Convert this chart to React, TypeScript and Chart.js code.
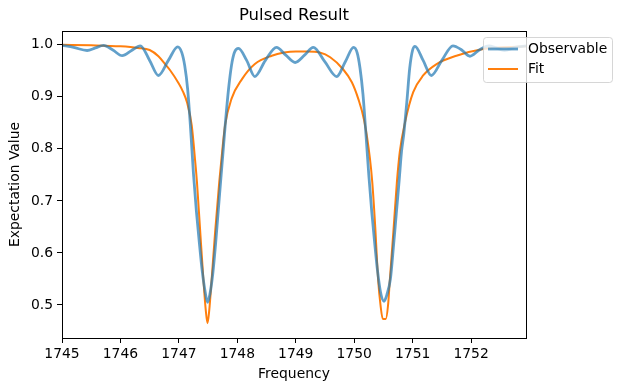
import React, { useEffect, useRef } from "react";
import { Chart, registerables } from "chart.js";

Chart.register(...registerables);

const TITLE = "Pulsed Result";
const X_LABEL = "Frequency";
const Y_LABEL = "Expectation Value";
const SERIES_NAMES = ["Observable", "Fit"];

const X_TICKS = [1745, 1746, 1747, 1748, 1749, 1750, 1751, 1752];
const Y_TICKS = [0.5, 0.6, 0.7, 0.8, 0.9, 1.0];

// Observable (measured) curve
const obsFreq = [
  1745.0, 1745.2, 1745.43, 1745.57, 1745.71, 1745.87, 1746.03, 1746.19, 1746.34, 1746.5, 1746.65, 1746.82, 1746.98,
  1747.05, 1747.1, 1747.15, 1747.2, 1747.25, 1747.3, 1747.35, 1747.4, 1747.45, 1747.49, 1747.53, 1747.58, 1747.63,
  1747.68, 1747.72, 1747.76, 1747.8, 1747.85, 1747.9, 1747.95, 1748.02,
  1748.16, 1748.3, 1748.48, 1748.67, 1748.83, 1748.99, 1749.15, 1749.3, 1749.5, 1749.7, 1749.85, 1749.99,
  1750.05, 1750.1, 1750.15, 1750.2, 1750.25, 1750.3, 1750.35, 1750.4, 1750.45, 1750.51, 1750.56, 1750.62, 1750.67,
  1750.72, 1750.77, 1750.81, 1750.85, 1750.9, 1750.95, 1751.0, 1751.04,
  1751.18, 1751.32, 1751.5, 1751.69, 1751.84, 1751.98, 1752.14, 1752.3, 1752.43, 1752.57, 1752.75, 1752.94,
];
const obsValue = [
  0.999, 0.995, 0.989, 0.994, 0.999, 0.99, 0.979, 0.989, 0.998, 0.97, 0.941, 0.97, 0.996,
  0.985, 0.96, 0.915, 0.84, 0.752, 0.68, 0.62, 0.565, 0.525, 0.505, 0.52, 0.56, 0.62,
  0.69, 0.745, 0.8, 0.855, 0.915, 0.96, 0.985, 0.993,
  0.97, 0.939, 0.97, 0.995, 0.98, 0.966, 0.98, 0.995, 0.967, 0.939, 0.968, 0.995,
  0.985, 0.955, 0.905, 0.83, 0.75, 0.68, 0.62, 0.565, 0.525, 0.507, 0.52, 0.55, 0.61,
  0.675, 0.74, 0.795, 0.83, 0.889, 0.955, 0.99, 0.997,
  0.97, 0.941, 0.97, 0.998, 0.99, 0.978, 0.99, 0.998, 0.994, 0.989, 0.995, 0.998,
];

// Fit curve
const fitFreq = [
  1745.0, 1745.5, 1746.0, 1746.3, 1746.5, 1746.65, 1746.77, 1746.85, 1746.99, 1747.07, 1747.14, 1747.22, 1747.28,
  1747.31, 1747.36, 1747.42, 1747.46, 1747.49, 1747.52, 1747.56, 1747.62, 1747.69, 1747.74, 1747.79, 1747.9,
  1748.08, 1748.3, 1748.59, 1748.8, 1749.0, 1749.2, 1749.41, 1749.59, 1749.81, 1749.96, 1750.07, 1750.17, 1750.27,
  1750.31, 1750.36, 1750.41, 1750.45, 1750.49, 1750.54, 1750.58, 1750.61, 1750.67, 1750.73, 1750.78, 1750.87,
  1751.01, 1751.18, 1751.41, 1751.75, 1752.21, 1752.94,
];
const fitValue = [
  1.0, 0.999, 0.997, 0.994, 0.99, 0.978, 0.962, 0.951, 0.927, 0.91, 0.889, 0.845, 0.775,
  0.735, 0.65, 0.548, 0.49, 0.465, 0.49, 0.548, 0.64, 0.735, 0.794, 0.845, 0.896,
  0.934, 0.963, 0.979, 0.985, 0.987, 0.987, 0.985, 0.976, 0.953, 0.928, 0.896, 0.855, 0.781,
  0.735, 0.65, 0.548, 0.5, 0.473, 0.473, 0.5, 0.548, 0.64, 0.735, 0.794, 0.851,
  0.909, 0.941, 0.963, 0.979, 0.992, 0.997,
];

const OBS_COLOR = "rgba(31,119,180,0.7)";
const FIT_COLOR = "#ff7f0e";
const FONT = "'DejaVu Sans', sans-serif";

const W = 622;
const H = 391;
const LEFT = 62;
const RIGHT = 526;
const TOP = 31;
const BOTTOM = 338;

export default function App() {
  const ref = useRef<HTMLCanvasElement | null>(null);

  useEffect(() => {
    document.body.style.margin = "0";
    const canvas = ref.current;
    if (!canvas) return;

    const decor = {
      id: "decor",
      afterDatasetsDraw(chart: any) {
        const { ctx, chartArea } = chart;
        ctx.save();
        // frame
        ctx.strokeStyle = "#000";
        ctx.lineWidth = 1;
        ctx.strokeRect(
          Math.round(chartArea.left) + 0.5,
          Math.round(chartArea.top) + 0.5,
          Math.round(chartArea.right - chartArea.left),
          Math.round(chartArea.bottom - chartArea.top)
        );
        // title
        ctx.fillStyle = "#000";
        ctx.font = `16.5px ${FONT}`;
        ctx.textAlign = "center";
        ctx.textBaseline = "middle";
        ctx.fillText(TITLE, (chartArea.left + chartArea.right) / 2, 16);
        // legend
        const bx = 483.5, by = 37.5, bw = 129, bh = 45, r = 3;
        ctx.beginPath();
        ctx.moveTo(bx + r, by);
        ctx.lineTo(bx + bw - r, by);
        ctx.arcTo(bx + bw, by, bx + bw, by + r, r);
        ctx.lineTo(bx + bw, by + bh - r);
        ctx.arcTo(bx + bw, by + bh, bx + bw - r, by + bh, r);
        ctx.lineTo(bx + r, by + bh);
        ctx.arcTo(bx, by + bh, bx, by + bh - r, r);
        ctx.lineTo(bx, by + r);
        ctx.arcTo(bx, by, bx + r, by, r);
        ctx.closePath();
        ctx.fillStyle = "rgba(255,255,255,0.8)";
        ctx.fill();
        ctx.strokeStyle = "rgba(204,204,204,0.8)";
        ctx.stroke();
        const rows = [
          { y: 49, color: OBS_COLOR, w: 2.8, label: SERIES_NAMES[0] },
          { y: 69, color: FIT_COLOR, w: 2, label: SERIES_NAMES[1] },
        ];
        rows.forEach((row) => {
          ctx.beginPath();
          ctx.strokeStyle = row.color;
          ctx.lineWidth = row.w;
          ctx.moveTo(488, row.y);
          ctx.lineTo(518, row.y);
          ctx.stroke();
          ctx.fillStyle = "#000";
          ctx.font = `13.9px ${FONT}`;
          ctx.textAlign = "left";
          ctx.textBaseline = "middle";
          ctx.fillText(row.label, 528, row.y);
        });
        ctx.restore();
      },
    };

    const chart = new Chart(canvas, {
      type: "line",
      data: {
        datasets: [
          {
            label: SERIES_NAMES[0],
            data: obsFreq.map((x, i) => ({ x, y: obsValue[i] })),
            borderColor: OBS_COLOR,
            borderWidth: 2.8,
            pointRadius: 0,
            cubicInterpolationMode: "monotone",
            fill: false,
          },
          {
            label: SERIES_NAMES[1],
            data: fitFreq.map((x, i) => ({ x, y: fitValue[i] })),
            borderColor: FIT_COLOR,
            borderWidth: 2,
            pointRadius: 0,
            cubicInterpolationMode: "monotone",
            fill: false,
          },
        ],
      },
      options: {
        animation: false,
        responsive: false,
        maintainAspectRatio: false,
        layout: { padding: { left: 0, right: W - RIGHT, top: TOP, bottom: 0 } },
        plugins: {
          legend: { display: false },
          title: { display: false },
          tooltip: { enabled: false },
        },
        scales: {
          x: {
            type: "linear",
            min: 1745,
            max: 1752.94,
            afterFit: (s: any) => {
              s.height = H - BOTTOM;
            },
            afterBuildTicks: (s: any) => {
              s.ticks = X_TICKS.map((v) => ({ value: v }));
            },
            ticks: {
              color: "#000",
              font: { family: FONT, size: 13.9 },
              padding: 3,
              maxRotation: 0,
              callback: (v: any) => String(v),
            },
            grid: {
              drawOnChartArea: false,
              tickLength: 5,
              tickColor: "#000",
              color: "#000",
            },
            border: { display: false },
            title: {
              display: true,
              text: X_LABEL,
              color: "#000",
              font: { family: FONT, size: 13.9 },
              padding: { top: 0, bottom: 8.5 },
            },
          },
          y: {
            type: "linear",
            min: 0.4365,
            max: 1.0265,
            afterFit: (s: any) => {
              s.width = LEFT;
            },
            afterBuildTicks: (s: any) => {
              s.ticks = Y_TICKS.map((v) => ({ value: v }));
            },
            ticks: {
              color: "#000",
              font: { family: FONT, size: 13.9 },
              padding: 4,
              callback: (v: any) => Number(v).toFixed(1),
            },
            grid: {
              drawOnChartArea: false,
              tickLength: 5,
              tickColor: "#000",
              color: "#000",
            },
            border: { display: false },
            title: {
              display: true,
              text: Y_LABEL,
              color: "#000",
              font: { family: FONT, size: 13.9 },
              padding: { top: 7.5, bottom: 0 },
            },
          },
        },
      },
      plugins: [decor],
    });

    return () => chart.destroy();
  }, []);

  return (
    <div style={{ width: W, height: H, position: "relative", background: "#fff" }}>
      <canvas ref={ref} width={W} height={H} style={{ display: "block", width: W, height: H }} />
    </div>
  );
}
